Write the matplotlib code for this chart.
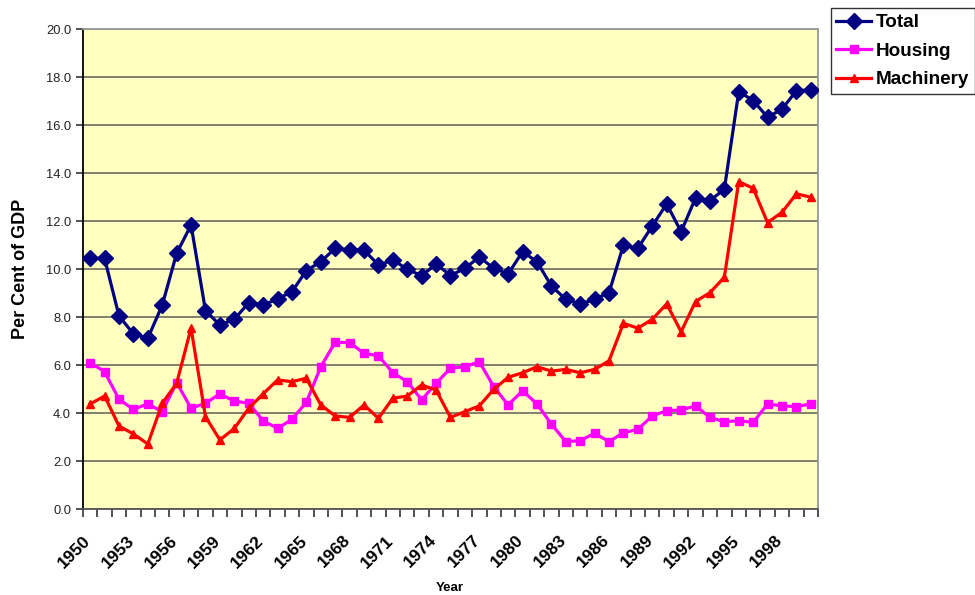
import matplotlib
matplotlib.use('Agg')
import matplotlib.pyplot as plt
from matplotlib.transforms import ScaledTranslation
import numpy as np

years = list(range(1950, 2001))

total = [10.45, 10.45, 8.05, 7.30, 7.12, 8.50, 10.66, 11.84, 8.27, 7.67,
         7.91, 8.60, 8.50, 8.76, 9.06, 9.94, 10.31, 10.87, 10.80, 10.80,
         10.17, 10.38, 10.00, 9.72, 10.22, 9.73, 10.04, 10.50, 10.04, 9.80,
         10.73, 10.31, 9.30, 8.74, 8.55, 8.74, 9.02, 11.00, 10.87, 11.80,
         12.72, 11.56, 12.96, 12.86, 13.33, 17.40, 17.03, 16.33, 16.67, 17.44,
         17.47]

housing = [6.10, 5.73, 4.57, 4.16, 4.38, 4.06, 5.27, 4.20, 4.41, 4.80,
           4.50, 4.41, 3.68, 3.36, 3.74, 4.45, 5.93, 6.95, 6.94, 6.49,
           6.39, 5.68, 5.31, 4.55, 5.24, 5.87, 5.93, 6.14, 5.10, 4.34,
           4.93, 4.38, 3.54, 2.81, 2.85, 3.16, 2.81, 3.18, 3.32, 3.88,
           4.10, 4.13, 4.30, 3.82, 3.64, 3.68, 3.61, 4.38, 4.30, 4.27,
           4.38]

machinery = [4.38, 4.71, 3.46, 3.13, 2.71, 4.41, 5.24, 7.54, 3.85, 2.88,
             3.36, 4.20, 4.80, 5.38, 5.31, 5.45, 4.34, 3.88, 3.82, 4.34,
             3.78, 4.62, 4.71, 5.17, 4.96, 3.82, 4.06, 4.30, 4.99, 5.49,
             5.68, 5.93, 5.75, 5.82, 5.68, 5.82, 6.18, 7.74, 7.54, 7.91,
             8.55, 7.39, 8.65, 9.02, 9.66, 13.65, 13.37, 11.94, 12.37, 13.14,
             13.00]

plt.rcParams['font.family'] = ['Liberation Sans', 'DejaVu Sans']

fig = plt.figure(figsize=(9.75, 5.95), dpi=100)
ax = fig.add_axes([0.0851, 0.1445, 0.7539, 0.8063])
ax.set_facecolor('#FFFFC0')

x = np.arange(len(years))
ax.plot(x, total, color='#000080', lw=2.3, marker='D', ms=8, label='Total', zorder=4)
ax.plot(x, housing, color='#FF00FF', lw=2.3, marker='s', ms=5.5, label='Housing', zorder=3)
ax.plot(x, machinery, color='#FF0000', lw=2.3, marker='^', ms=6, label='Machinery', zorder=3)

ax.set_ylim(0, 20)
ax.set_xlim(-0.5, len(years) - 0.5)
ax.set_yticks(np.arange(0, 20.1, 2))
ax.set_yticklabels(['%.1f' % v for v in np.arange(0, 20.1, 2)], fontsize=9.3, color='#222222')
ax.yaxis.grid(True, color='#777766', lw=1.3)
ax.set_axisbelow(True)

# labels every third year at category centres, tick marks at category edges
lab_idx = x[::3]
ax.set_xticks(lab_idx)
ax.set_xticklabels([str(years[i]) for i in lab_idx], fontsize=12.5, fontweight='bold',
                   rotation=45, ha='right', va='top', rotation_mode='anchor')
ax.tick_params(axis='x', which='major', length=0, pad=17)
ax.set_xticks(np.arange(-0.5, len(years)), minor=True)
ax.tick_params(axis='x', which='minor', length=6, width=1.2, color='#333333')
ax.tick_params(axis='y', length=5, width=1.2, color='#333333')
off = ScaledTranslation(-7 / 100, 0, fig.dpi_scale_trans)
for lbl in ax.get_xticklabels():
    lbl.set_transform(lbl.get_transform() + off)

ax.spines['left'].set_color('black')
ax.spines['left'].set_linewidth(1.3)
ax.spines['bottom'].set_color('#555555')
ax.spines['bottom'].set_linewidth(1.3)
ax.spines['top'].set_color('#999999')
ax.spines['top'].set_linewidth(1.3)
ax.spines['right'].set_color('#999999')
ax.spines['right'].set_linewidth(1.3)

ax.set_ylabel('Per Cent of GDP', fontsize=13, fontweight='bold', labelpad=12)
fig.text(0.4615, 0.012, 'Year', fontsize=9.5, fontweight='bold', ha='center', va='center')

leg = fig.legend(loc='upper left', bbox_to_anchor=(0.852, 0.986), fontsize=13.6,
                 frameon=True, fancybox=False, edgecolor='black', borderpad=0.3,
                 labelspacing=0.6, handlelength=1.85, handletextpad=0.25,
                 borderaxespad=0)
leg.get_frame().set_linewidth(1.0)
for t in leg.get_texts():
    t.set_fontweight('bold')

fig.savefig('out.png', dpi=100)
